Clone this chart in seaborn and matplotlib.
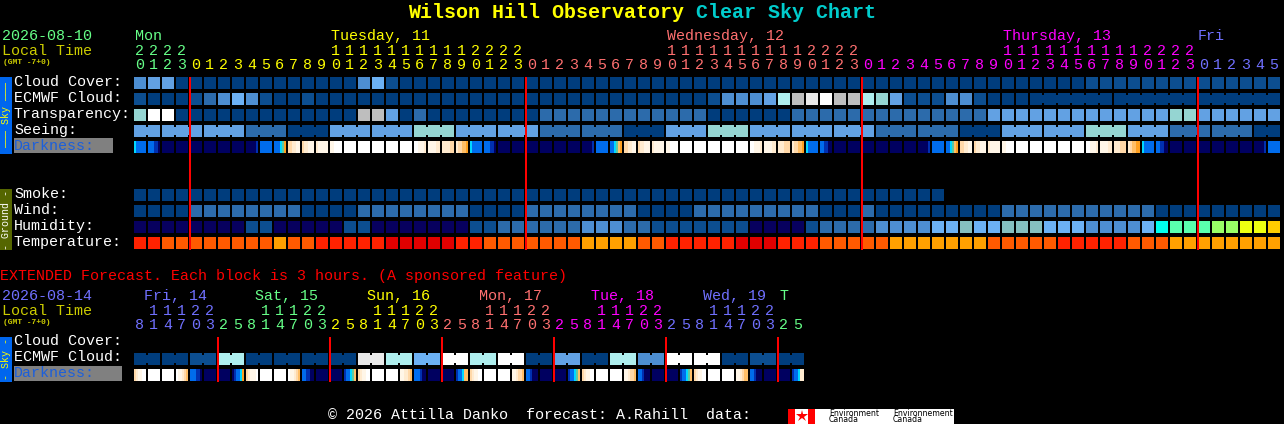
import numpy as np
import matplotlib
matplotlib.use("Agg")
import matplotlib.pyplot as plt
from matplotlib.colors import ListedColormap
import seaborn as sns

W, H = 1284, 424
FONT = "Liberation Mono"

# ---- data: condition levels index LEVEL_COLORS, one entry per block ----
LEVEL_COLORS = ["#003D7D", "#0C4E90", "#2C6BAB", "#4D8ED1", "#62A1E3", "#6CB1F4", "#95D5D2",
                "#AEEEEE", "#BEBEBE", "#E9E9E9", "#FFFFFF", "#07005E", "#85BFBF", "#00FFEE",
                "#5AFFAE", "#99FF66", "#EEFF11", "#FFCC00", "#FF2200", "#E00000", "#FF5A00", "#FFA000"]
DARK_CODES = "WabcdeTCBMN"
DARK_COLORS = ["#FFFFFF", "#FFF6E8", "#FFEBD0", "#FFD8A8", "#FFBE66", "#FFA020",
               "#60C8A0", "#00D8FF", "#006CEC", "#0030B0", "#000060"]

hours = [20, 21, 22, 23,
         0, 1, 2, 3, 4, 5, 6, 7, 8, 9, 10, 11, 12, 13, 14, 15, 16, 17, 18, 19, 20, 21, 22, 23,
         0, 1, 2, 3, 4, 5, 6, 7, 8, 9, 10, 11, 12, 13, 14, 15, 16, 17, 18, 19, 20, 21, 22, 23,
         0, 1, 2, 3, 4, 5, 6, 7, 8, 9, 10, 11, 12, 13, 14, 15, 16, 17, 18, 19, 20, 21, 22, 23,
         0, 1, 2, 3, 4, 5]
hour_day_spans = [4, 24, 24, 24, 6]
day_colors = ["#66FF88", "#FFFF00", "#FF7070", "#FF00FF", "#7070FF"]
day_labels = ["Mon", "Tuesday, 11", "Wednesday, 12", "Thursday, 13", "Fri"]

cloud_cover = [3, 4, 4, 0, 0, 0, 0, 0, 0, 0, 0, 0, 0, 0, 0, 0, 3, 5, 1, 0, 0,
               0, 0, 0, 0, 0, 0, 0, 0, 0, 0, 0, 0, 0, 0, 0, 0, 0, 0, 0, 0,
               0, 0, 0, 0, 0, 0, 0, 0, 0, 0, 0, 0, 0, 0, 0, 0, 0, 0, 0, 0,
               0, 0, 0, 0, 0, 0, 0, 1, 1, 1, 1, 1, 1, 1, 1, 1, 1, 1, 1, 1, 1]
ecmwf_cloud = [1, 0, 0, 0, 1, 2, 3, 5, 3, 1, 0, 0, 1, 0, 0, 0, 0, 0, 0, 0, 0,
               0, 0, 0, 0, 0, 0, 0, 0, 0, 0, 0, 0, 0, 0, 0, 0, 0, 0, 0, 0,
               1, 3, 3, 3, 4, 7, 8, 9, 10, 8, 8,
               7, 6, 4, 1, 1, 1, 3, 3, 1, 0, 0, 0,
               0, 0, 0, 0, 0, 0, 0, 0, 0, 0, 0, 0, 0, 0, 0, 0, 0, 0]
ecmwf_spans = [1] * 64 + [6, 6, 6]
transparency = [6, 10, 10, 0, 0, 0, 0, 0, 0, 0, 0, 0, 0, 0, 0, 0, 8, 8, 4, 0, 2,
                0, 0, 0, 0, 0, 0, 0, 0, 2, 2, 2, 2, 2, 2, 2, 2, 2, 2, 2, 2,
                0, 0, 0, 0, 0, 0, 2, 2, 2, 2, 2, 2, 2, 2, 2, 2, 2, 2, 2, 2,
                4, 4, 4, 4, 4, 4, 4, 4, 4, 4, 4, 4, 4, 6, 6, 4, 4, 4, 4, 4, 4]
seeing_groups = [4, 4, 4, 2, 0, 4, 4, 6, 4, 4, 2, 2, 0, 4, 6, 4, 4, 4, 2, 2, 0, 4, 4, 6, 4, 2, 2, 0]
seeing_spans = [2] + [3] * 26 + [2]
darkness = ["CBBBBB", "BBBMMN", "NNNNNN", "NNNNNN", "NNNNNN", "NNNNNN", "NNNNNN", "NNNNNN",
            "NNNNNM", "BBBBBB", "BBBCTe", "ccbbaa", "cbbaaa", "baaaaa", "aaWWWW", "WWWWWW",
            "WWWWWW", "WWWWWW", "WWWWWW", "WWWWWW", "WWaaab", "aaaabb", "bbbbcc", "bccdde",
            "CBBBBB", "BBBMMN", "NNNNNN", "NNNNNN", "NNNNNN", "NNNNNN", "NNNNNN", "NNNNNN",
            "NNNNNM", "BBBBBB", "BBCTde", "ccbbaa", "cbbaaa", "baaaaa", "aaWWWW", "WWWWWW",
            "WWWWWW", "WWWWWW", "WWWWWW", "WWWWWW", "WWaaab", "aaaabb", "bbbccc", "bccdde",
            "CBBBBB", "BBMMNN", "NNNNNN", "NNNNNN", "NNNNNN", "NNNNNN", "NNNNNN", "NNNNNN",
            "NNNNNM", "BBBBBB", "BBCTde", "ccbbaa", "cbbaaa", "baaaaa", "aaWWWW", "WWWWWW",
            "WWWWWW", "WWWWWW", "WWWWWW", "WWWWWW", "WWaaab", "aaaabb", "bbbccc", "bcddee",
            "CBBBBB", "BBMMNN", "NNNNNN", "NNNNNN", "NNNNNN", "NNNNNN", "NNNNNN", "NNNNNN",
            "NNNNNM", "BBBBBB"]

smoke = [0] * 58
wind = [0, 0, 0, 0, 2, 2, 2, 2, 2, 2, 2, 2, 0, 0, 0, 0, 2, 2, 2, 2, 2,
        2, 2, 2, 0, 0, 0, 0, 2, 2, 2, 2, 2, 2, 2, 2, 0, 0, 0, 0, 2,
        2, 2, 2, 2, 2, 2, 2, 2, 0, 0, 0, 2, 0, 0, 0, 0, 0, 0, 0, 0, 0,
        2, 2, 2, 2, 2, 2, 2, 2, 2, 2, 2, 0, 0, 0, 0, 0, 0, 0, 0, 0]
humidity = [11, 11, 11, 11, 11, 11, 11, 11, 1, 1, 11, 11, 11, 11, 11, 1, 1, 11, 11, 11, 11,
            11, 11, 11, 1, 1, 2, 2, 2, 2, 2, 2, 3, 3, 3, 2, 2, 1, 1, 1, 1,
            1, 1, 1, 11, 11, 11, 11, 1, 2, 2, 2, 2, 3, 3, 3, 3, 5, 5, 12, 5, 5,
            12, 12, 12, 5, 5, 5, 3, 3, 3, 3, 5, 13, 14, 14, 14, 15, 15, 16, 16, 17]
temperature = [18, 18, 20, 20, 20, 20, 20, 20, 20, 20, 21, 20, 20, 18, 18, 18, 18, 18, 19, 19, 19,
               19, 19, 18, 18, 20, 20, 20, 20, 20, 20, 20, 21, 21, 21, 21, 20, 20, 18, 18, 18,
               18, 18, 19, 19, 19, 18, 18, 18, 20, 20, 20, 20, 20, 21, 21, 21, 21, 21, 21, 21, 20,
               20, 20, 20, 20, 18, 18, 18, 18, 18, 20, 20, 20, 21, 21, 21, 21, 21, 21, 21, 21]

ext_hours = [8, 11, 14, 17, 20, 23, 2, 5, 8, 11, 14, 17, 20, 23, 2, 5, 8, 11, 14, 17, 20, 23, 2, 5,
             8, 11, 14, 17, 20, 23, 2, 5, 8, 11, 14, 17, 20, 23, 2, 5, 8, 11, 14, 17, 20, 23, 2, 5]
ext_day_spans = [6, 8, 8, 8, 8, 8, 2]
ext_day_colors = ["#7070FF", "#66FF88", "#FFFF00", "#FF7070", "#FF00FF", "#7070FF", "#66FF88"]
ext_day_labels = ["Fri, 14", "Sat, 15", "Sun, 16", "Mon, 17", "Tue, 18", "Wed, 19", "T"]
ext_ecmwf_groups = [0, 0, 1, 7, 0, 0, 0, 0, 9, 7, 5, 10, 7, 10, 0, 4, 0, 7, 3, 10, 10, 0, 1, 0]
ext_spans = [2] * 24
ext_darkness = ["cbaaWW", "WWWWWW", "WWWWWW", "Waabcd", "BBBMMN", "NNNNNN", "NNNNNN", "NMBBCe",
                "cbaaaW", "WWWWWW", "WWWWWW", "Waabcd", "BBMMNN", "NNNNNN", "NNNNNN", "MBBCTd",
                "cbaaWW", "WWWWWW", "WWWWWW", "aabbcd", "BBBMNN", "NNNNNN", "NNNNNN", "MBBCdd",
                "cbaaWW", "WWWWWW", "WWWWWW", "aabccd", "BBMNNN", "NNNNNN", "NNNNNN", "MBBCTd",
                "cbaaWW", "WWWWWW", "WWWWWW", "aabccd", "BBMNNN", "NNNNNN", "NNNNNN", "MBBCTd",
                "cbaaWW", "WWWWWW", "WWWWWW", "aabcdd", "BBMNNN", "NNNNNN", "NNNNNN", "MBBCbb"]

# ---- layout, in image pixels ----
X0, STEP, CELL_W, CELL_H = 134, 14, 12, 12

plt.rcParams["figure.facecolor"] = "black"
plt.rcParams["savefig.facecolor"] = "black"
plt.rcParams["font.family"] = [FONT, "DejaVu Sans"]
fig = plt.figure(figsize=(W / 100, H / 100), dpi=100)

level_cmap = ListedColormap(LEVEL_COLORS)
dark_cmap = ListedColormap(DARK_COLORS)


def row_axes(top):
    ax = fig.add_axes([X0 / W, 1 - (top + CELL_H) / H, 82 * STEP / W, CELL_H / H])
    ax.set_facecolor("black")
    return ax


def level_row(top, values, spans=None):
    """One row of blocks; blocks inside one span are joined by a narrower bridge."""
    grid = np.full((6, 82 * 7), np.nan)
    for i, v in enumerate(values):
        grid[:, 7 * i:7 * i + 6] = v
    if spans is not None:
        pos = 0
        for s in spans:
            for i in range(pos, pos + s - 1):
                grid[1:5, 7 * i + 6] = values[i]
            pos += s
    sns.heatmap(grid, ax=row_axes(top), cmap=level_cmap,
                vmin=-0.5, vmax=len(LEVEL_COLORS) - 0.5, cbar=False,
                xticklabels=False, yticklabels=False, linewidths=0)


def dark_row(top, tokens):
    grid = np.full((1, 82 * 7), np.nan)
    for i, tok in enumerate(tokens):
        grid[0, 7 * i:7 * i + 6] = [DARK_CODES.index(c) for c in tok]
    sns.heatmap(grid, ax=row_axes(top), cmap=dark_cmap,
                vmin=-0.5, vmax=len(DARK_COLORS) - 0.5, cbar=False,
                xticklabels=False, yticklabels=False, linewidths=0)


level_row(77, cloud_cover)
level_row(93, ecmwf_cloud, ecmwf_spans)
level_row(109, transparency)
level_row(125, list(np.repeat(seeing_groups, seeing_spans)), seeing_spans)
dark_row(141, darkness)
level_row(189, smoke)
level_row(205, wind)
level_row(221, humidity)
level_row(237, temperature)
level_row(353, list(np.repeat(ext_ecmwf_groups, ext_spans)), ext_spans)
dark_row(369, ext_darkness)

# ---- overlay in pixel coordinates for text, rules and badges ----
cv = fig.add_axes([0, 0, 1, 1], zorder=5)
cv.set_xlim(0, W)
cv.set_ylim(H, 0)
cv.axis("off")
cv.patch.set_alpha(0)


def txt(x, y, s, color="white", px=15, weight="normal", ha="left", **kw):
    cv.text(x, y, s, color=color, fontsize=px * 0.72, fontweight=weight, ha=ha, va="center",
            family=FONT, **kw)


# title
title_a, title_b = "Wilson Hill Observatory", " Clear Sky Chart"
txt(408, 12, title_a, "#FFFF00", 20, "bold")
txt(408 + 12.0 * len(title_a), 12, title_b, "#00CCCC", 20, "bold")


def hour_labels(hrs, spans, colors, y_tens, y_units):
    cols = list(np.repeat(colors, spans))
    for i, (h, c) in enumerate(zip(hrs, cols)):
        xc = X0 + STEP * i + CELL_W / 2 - 0.5
        if h >= 10:
            txt(xc, y_tens, str(h // 10), c, ha="center")
        txt(xc, y_units, str(h % 10), c, ha="center")


# main header
txt(2, 36, "2026-08-10", day_colors[0])
txt(2, 51, "Local Time", "#CCCC00")
txt(3, 62, "(GMT -7+0)", "#CCCC00", 8, "bold")
for x, s, c in zip([135, 331, 667, 1003, 1198], day_labels, day_colors):
    txt(x, 36, s, c)
hour_labels(hours, hour_day_spans, day_colors, 51, 65)

for y, s in zip([82, 98, 114, 130], ["Cloud Cover:", "ECMWF Cloud:", "Transparency:", "Seeing:"]):
    txt(14, y, s)
cv.add_patch(plt.Rectangle((14, 138), 99, 15, color="#808080", lw=0))
txt(14, 146, "Darkness:", "#1C5FDB")
for y, s in zip([194, 210, 226, 242], ["Smoke:", "Wind:", "Humidity:", "Temperature:"]):
    txt(14, y, s)

# side badges
cv.add_patch(plt.Rectangle((0, 77), 12, 77, color="#0066EE", lw=0))
txt(6, 115.5, "\u2014\u2014\u2014 Sky \u2014\u2014\u2014", "#FFFF00", 10, ha="center", rotation=90)
cv.add_patch(plt.Rectangle((0, 189), 12, 61, color="#556600", lw=0))
txt(6, 219.5, "- Ground -", "#FFFFFF", 10, ha="center", rotation=90)
cv.add_patch(plt.Rectangle((0, 337), 12, 45, color="#0066EE", lw=0))
txt(6, 359.5, "- Sky -", "#FFFF00", 10, ha="center", rotation=90)

# extended section
txt(0, 276, "EXTENDED Forecast. Each block is 3 hours. (A sponsored feature)", "#FF0000")
txt(2, 296, "2026-08-14", "#7070FF")
txt(2, 311, "Local Time", "#CCCC00")
txt(3, 322, "(GMT -7+0)", "#CCCC00", 8, "bold")
for x, s, c in zip([144, 255, 367, 479, 591, 703, 779], ext_day_labels, ext_day_colors):
    txt(x, 296, s, c)
hour_labels(ext_hours, ext_day_spans, ext_day_colors, 311, 325)
txt(14, 341, "Cloud Cover:")
txt(14, 357, "ECMWF Cloud:")
cv.add_patch(plt.Rectangle((14, 366), 108, 15, color="#808080", lw=0))
txt(14, 373, "Darkness:", "#1C5FDB")

# midnight rules
mid = [i for i in range(1, len(hours)) if hours[i] < hours[i - 1]]
cv.vlines([X0 + STEP * i for i in mid], 77, 250, color="#FF0000", lw=1.44, capstyle="butt")
ext_mid = [i for i in range(1, len(ext_hours)) if ext_hours[i] < ext_hours[i - 1]]
cv.vlines([X0 + STEP * i for i in ext_mid], 337, 382, color="#FF0000", lw=1.44, capstyle="butt")

# footer and logo
txt(328, 415, "\u00a9 2026 Attilla Danko  forecast: A.Rahill  data:")
cv.add_patch(plt.Rectangle((788, 409), 166, 15, color="white", lw=0))
cv.add_patch(plt.Rectangle((788, 409), 7, 15, color="#FF0000", lw=0))
cv.add_patch(plt.Rectangle((808, 409), 7, 15, color="#FF0000", lw=0))
cv.plot([801.5], [416], marker="*", ms=9, color="#FF0000", mew=0)
for x, a, b in [(829, "Environment", "Canada"), (893, "Environnement", "Canada")]:
    cv.text(x, 413, a, color="black", fontsize=5.6, va="center", family="DejaVu Sans")
    cv.text(x, 420, b, color="black", fontsize=5.6, va="center", family="DejaVu Sans")

fig.savefig("out.png", dpi=100)
